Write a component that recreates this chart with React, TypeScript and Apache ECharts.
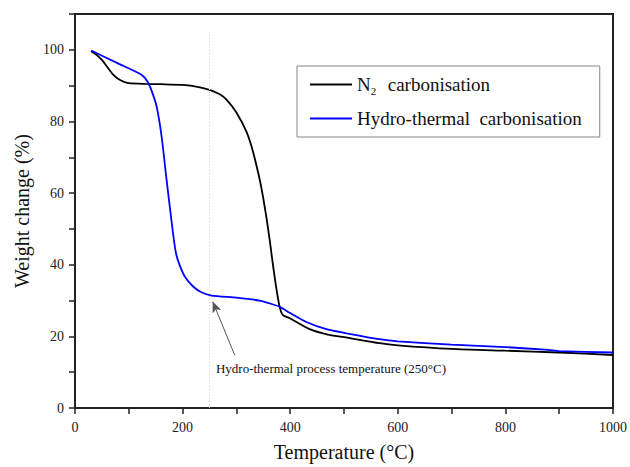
import React, { useEffect, useRef } from "react";
import * as echarts from "echarts";

const n2X = [30, 40, 50, 60, 70, 80, 90, 100, 130, 160, 200, 230, 250, 270, 282, 300, 319, 330, 343, 350, 356, 362, 367, 373, 380, 386, 400, 436, 470, 500, 566, 600, 700, 800, 900, 1000];
const n2Y = [99.7, 98.6, 97.2, 95.2, 93.2, 91.9, 91.1, 90.7, 90.5, 90.4, 90.2, 89.6, 88.8, 87.5, 86, 82.5, 77, 72, 64, 58.5, 53, 46.8, 41, 34.6, 28.5, 26, 25, 22, 20.5, 19.8, 18.1, 17.5, 16.5, 16, 15.5, 14.8];

const htX = [30, 80, 124, 136, 145, 152, 161, 170, 182, 188, 195, 205, 219, 235, 254, 300, 343, 360, 380, 400, 430, 467, 500, 566, 600, 700, 800, 880, 900, 1000];
const htY = [99.8, 96.2, 93, 90.8, 87.5, 84, 75.8, 64, 49, 43, 39.7, 36.5, 34, 32.3, 31.4, 30.8, 30, 29.3, 28.3, 26.5, 24, 22, 21, 19.2, 18.6, 17.7, 17, 16.2, 15.9, 15.5];

const seriesNames = ["N2  carbonisation", "Hydro-thermal  carbonisation"];
const annotationText = "Hydro-thermal process temperature (250°C)";
const processTemp = 250;
const arrowFrom = [297, 14.7];
const arrowTo = [256, 29.7];
const labelAt = [262, 11.1];

const FONT = "'Liberation Serif', 'Times New Roman', serif";

export default function App() {
  const ref = useRef<HTMLDivElement>(null);
  useEffect(() => {
    if (!ref.current) return;
    const chart = echarts.init(ref.current, undefined, { renderer: "svg" });
    const zip = (xs: number[], ys: number[]) => xs.map((x, i) => [x, ys[i]]);
    chart.setOption({
      animation: false,
      backgroundColor: "#fff",
      textStyle: { fontFamily: FONT },
      grid: {
        left: 75,
        right: 16,
        top: 14,
        bottom: 57,
        show: true,
        borderColor: "#222",
        borderWidth: 2,
        backgroundColor: "transparent",
      },
      legend: {
        orient: "vertical",
        left: 297,
        top: 66,
        padding: [9, 18, 9, 13],
        itemGap: 13,
        itemWidth: 42,
        itemHeight: 2,
        icon: "rect",
        backgroundColor: "#fff",
        borderColor: "#888",
        borderWidth: 1,
        borderRadius: 0,
        data: seriesNames,
        formatter: (name: string) => {
          if (name.startsWith("N2")) {
            return "{n|N}{s|2}{n|" + name.slice(2) + "}";
          }
          return "{n|" + name + "}";
        },
        textStyle: {
          fontFamily: FONT,
          fontSize: 19,
          color: "#111",
          rich: {
            n: { fontFamily: FONT, fontSize: 19, color: "#111" },
            s: { fontFamily: FONT, fontSize: 11, color: "#111", padding: [12, 2, 0, 0] },
          },
        },
      },
      xAxis: {
        type: "value",
        min: 0,
        max: 1000,
        interval: 100,
        name: "Temperature (°C)",
        nameLocation: "middle",
        nameGap: 34,
        nameTextStyle: { fontFamily: FONT, fontSize: 20, color: "#111" },
        splitLine: { show: false },
        axisLine: { show: true, onZero: false, lineStyle: { color: "#222", width: 2 } },
        axisTick: { show: true, inside: false, length: 6, lineStyle: { color: "#222", width: 1.5 } },
        axisLabel: {
          fontFamily: FONT,
          fontSize: 14,
          color: "#222",
          margin: 12,
          formatter: (v: number) => (v % 200 === 0 ? String(v) : ""),
        },
      },
      yAxis: {
        type: "value",
        min: 0,
        max: 110,
        interval: 10,
        name: "Weight change (%)",
        nameLocation: "middle",
        nameGap: 42,
        nameTextStyle: { fontFamily: FONT, fontSize: 20, color: "#111" },
        splitLine: { show: false },
        axisLine: { show: true, lineStyle: { color: "#222", width: 2 } },
        axisTick: { show: true, inside: false, length: 6, lineStyle: { color: "#222", width: 1.5 } },
        axisLabel: {
          fontFamily: FONT,
          fontSize: 14,
          color: "#222",
          margin: 11,
          formatter: (v: number) => (v % 20 === 0 && v <= 100 ? String(v) : ""),
        },
      },
      series: [
        {
          name: seriesNames[0],
          type: "line",
          data: zip(n2X, n2Y),
          symbol: "none",
          smooth: 0.2,
          lineStyle: { color: "#000", width: 1.8 },
          itemStyle: { color: "#000" },
          z: 3,
          markLine: {
            silent: true,
            symbol: ["none", "none"],
            label: { show: false },
            lineStyle: { color: "#d4d4d4", width: 1, type: [1, 2] },
            data: [[{ coord: [processTemp, 0] }, { coord: [processTemp, 105.5] }]],
          },
        },
        {
          name: seriesNames[1],
          type: "line",
          data: zip(htX, htY),
          symbol: "none",
          smooth: 0.2,
          lineStyle: { color: "#0000ff", width: 1.8 },
          itemStyle: { color: "#0000ff" },
          z: 4,
          markLine: {
            silent: true,
            symbol: ["none", "arrow"],
            symbolSize: [7, 11],
            label: { show: false },
            lineStyle: { color: "#555", width: 1, type: "solid" },
            data: [[{ coord: arrowFrom }, { coord: arrowTo }]],
          },
          markPoint: {
            silent: true,
            symbol: "circle",
            symbolSize: 0,
            data: [
              {
                coord: labelAt,
                label: {
                  show: true,
                  position: "right",
                  distance: 0,
                  formatter: annotationText,
                  fontFamily: FONT,
                  fontSize: 13,
                  color: "#111",
                },
              },
            ],
          },
        },
      ],
    });
    return () => chart.dispose();
  }, []);
  return (
    <div
      ref={ref}
      style={{ position: "fixed", left: 0, top: 0, width: 630, height: 467, background: "#fff" }}
    />
  );
}
